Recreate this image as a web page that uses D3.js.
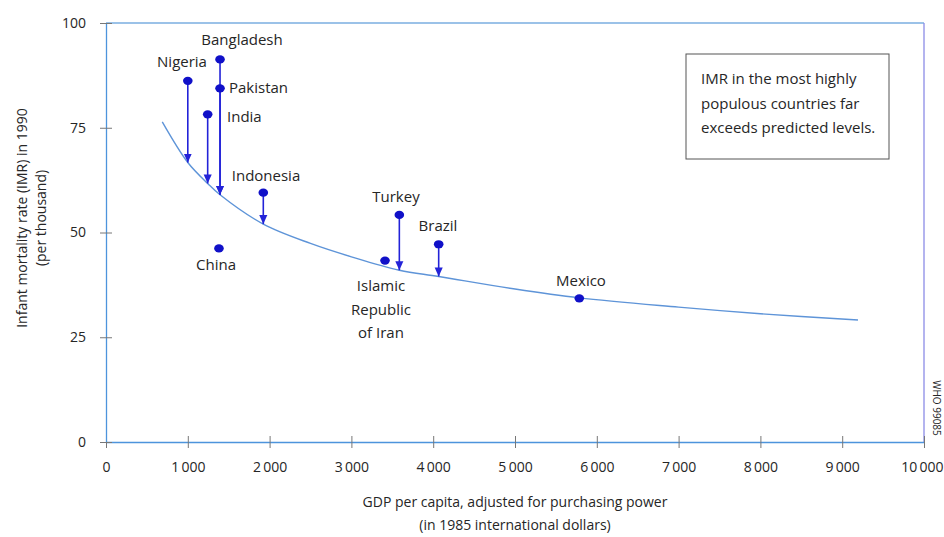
<!DOCTYPE html>
<html><head><meta charset="utf-8">
<script src="https://cdn.jsdelivr.net/npm/d3@7"></script>
<style>
html,body{margin:0;padding:0;background:#fff;}
svg text{font-family:"Open Sans","Noto Sans",sans-serif;fill:#262626;}
</style></head>
<body><svg id="c" width="944" height="537"></svg>
<script>
// ---- data ----
const countries = ["Nigeria","Bangladesh","Pakistan","India","Indonesia","China","Turkey","Brazil","Islamic Republic of Iran","Mexico"];
const gdp       = [1000, 1394, 1394, 1243, 1923, 1381, 3586, 4067, 3411, 5786];
const imr       = [86.2, 91.3, 84.4, 78.2, 59.5, 46.2, 54.2, 47.2, 43.3, 34.3];
const predicted = [66.7, 59.0, 59.0, 61.7, 52.0, null, 41.0, 39.5, null, null];
// fitted curve
const curveGdp = [688, 1000, 1243, 1394, 1923, 2500, 3000, 3586, 4067, 5000, 5786, 7000, 8000, 9193];
const curveImr = [76.4, 66.7, 61.7, 59.0, 52.0, 47.4, 44.2, 41.0, 39.5, 36.5, 34.4, 32.2, 30.6, 29.1];
const xTicks = [0,1000,2000,3000,4000,5000,6000,7000,8000,9000,10000];
const xTickLabels = ["0","1\u2009000","2\u2009000","3\u2009000","4\u2009000","5\u2009000","6\u2009000","7\u2009000","8\u2009000","9\u2009000","10\u2009000"];
const yTicks = [0,25,50,75,100];
const yTickLabels = ["0","25","50","75","100"];
const noteLines = ["IMR in the most highly","populous countries far","exceeds predicted levels."];
const xTitle = ["GDP per capita, adjusted for purchasing power","(in 1985 international dollars)"];
const yTitle = ["Infant mortality rate (IMR) in 1990","(per thousand)"];

const svg = d3.select("#c");
const L=106, R=924, T=23, B=442;
const x = d3.scaleLinear().domain([0,10000]).range([L,R]);
const y = d3.scaleLinear().domain([0,100]).range([B,T]);
const axisCol = "#4d94dc";
const FS = 15;

// frame top & right
svg.append("line").attr("x1",L).attr("x2",R).attr("y1",T).attr("y2",T).attr("stroke","#7aaee0").attr("stroke-width",1.3);
svg.append("line").attr("x1",R).attr("x2",R).attr("y1",T).attr("y2",B).attr("stroke","#8c8ce6").attr("stroke-width",1.3);

// axes
const gx = svg.append("g").attr("transform",`translate(0,${B})`)
  .call(d3.axisBottom(x).tickValues(xTicks).tickFormat((d,i)=>xTickLabels[i]).tickSizeInner(6).tickSizeOuter(0).tickPadding(14));
gx.select(".domain").attr("stroke",axisCol).attr("stroke-width",1.3);
gx.selectAll(".tick line").attr("stroke","#777").attr("y1",-6).attr("y2",6);
gx.selectAll(".tick text").attr("font-size",14).attr("fill","#262626").attr("font-family","Open Sans");
// keep the last label inside the window
gx.selectAll(".tick text").filter(d=>d===10000).attr("text-anchor","end").attr("x",943-R);
const gy = svg.append("g").attr("transform",`translate(${L},0)`)
  .call(d3.axisLeft(y).tickValues(yTicks).tickFormat((d,i)=>yTickLabels[i]).tickSizeInner(6).tickSizeOuter(0).tickPadding(14));
gy.select(".domain").attr("stroke",axisCol).attr("stroke-width",1.3);
gy.selectAll(".tick line").attr("stroke","#777").attr("x1",-6).attr("x2",6);
gy.selectAll(".tick text").attr("font-size",14).attr("fill","#262626").attr("font-family","Open Sans");

// axis titles
svg.append("g").selectAll("text").data(xTitle).join("text")
  .attr("x",515).attr("y",(d,i)=>507+i*23).attr("text-anchor","middle").attr("font-size",14).text(d=>d);
svg.append("g").selectAll("text").data(yTitle).join("text")
  .attr("transform",(d,i)=>`translate(${27+i*19},218) rotate(-90)`).attr("text-anchor","middle").attr("font-size",14).text(d=>d);

// curve
const curvePts = curveGdp.map((g,i)=>[g,curveImr[i]]);
svg.append("path").datum(curvePts)
  .attr("d",d3.line().x(d=>x(d[0])).y(d=>y(d[1])).curve(d3.curveCatmullRom.alpha(0.5)))
  .attr("fill","none").attr("stroke","#5e94d8").attr("stroke-width",1.4);

// arrows
svg.append("defs").append("marker").attr("id","ah").attr("viewBox","0 0 10 10")
  .attr("refX",10).attr("refY",5).attr("markerWidth",9).attr("markerHeight",9).attr("markerUnits","userSpaceOnUse")
  .attr("orient","auto").append("path").attr("d","M0,0.5L10,5L0,9.5Z").attr("fill","#2323d8");
const rows = countries.map((c,i)=>({c,g:gdp[i],v:imr[i],p:predicted[i]}));
svg.append("g").selectAll("line").data(rows.filter(d=>d.p!==null)).join("line")
  .attr("x1",d=>x(d.g)).attr("x2",d=>x(d.g)).attr("y1",d=>y(d.v)).attr("y2",d=>y(d.p))
  .attr("stroke","#2323d8").attr("stroke-width",1.6).attr("marker-end","url(#ah)");

// dots
svg.append("g").selectAll("ellipse").data(rows).join("ellipse")
  .attr("cx",d=>x(d.g)).attr("cy",d=>y(d.v)).attr("rx",4.8).attr("ry",4.1).attr("fill","#1010c8");

// labels
const labelPos = {
  "Nigeria":[182,67,"middle"],
  "Bangladesh":[242,45,"middle"],
  "Pakistan":[229,93,"start"],
  "India":[227,122,"start"],
  "Indonesia":[266,181,"middle"],
  "China":[216,270,"middle"],
  "Turkey":[396,202,"middle"],
  "Brazil":[438,231,"middle"],
  "Mexico":[581,286,"middle"]
};
const lg = svg.append("g");
rows.forEach(d=>{
  if (d.c==="Islamic Republic of Iran") {
    ["Islamic","Republic","of Iran"].forEach((t,i)=>{
      lg.append("text").attr("x",381).attr("y",291+i*23.5).attr("text-anchor","middle").attr("font-size",FS).text(t);
    });
  } else {
    const p = labelPos[d.c];
    lg.append("text").attr("x",p[0]).attr("y",p[1]).attr("text-anchor",p[2]).attr("font-size",FS).text(d.c);
  }
});

// note box
svg.append("rect").attr("x",686).attr("y",54).attr("width",203).attr("height",105)
  .attr("fill","#fff").attr("stroke","#555").attr("stroke-width",1);
svg.append("g").selectAll("text").data(noteLines).join("text")
  .attr("x",701).attr("y",(d,i)=>84+i*24.5).attr("font-size",FS).text(d=>d);

// source code
svg.append("text").attr("transform","translate(933,408) rotate(90)").attr("text-anchor","middle")
  .attr("font-size",10).attr("fill","#666").text("WHO 99085");
</script></body></html>
